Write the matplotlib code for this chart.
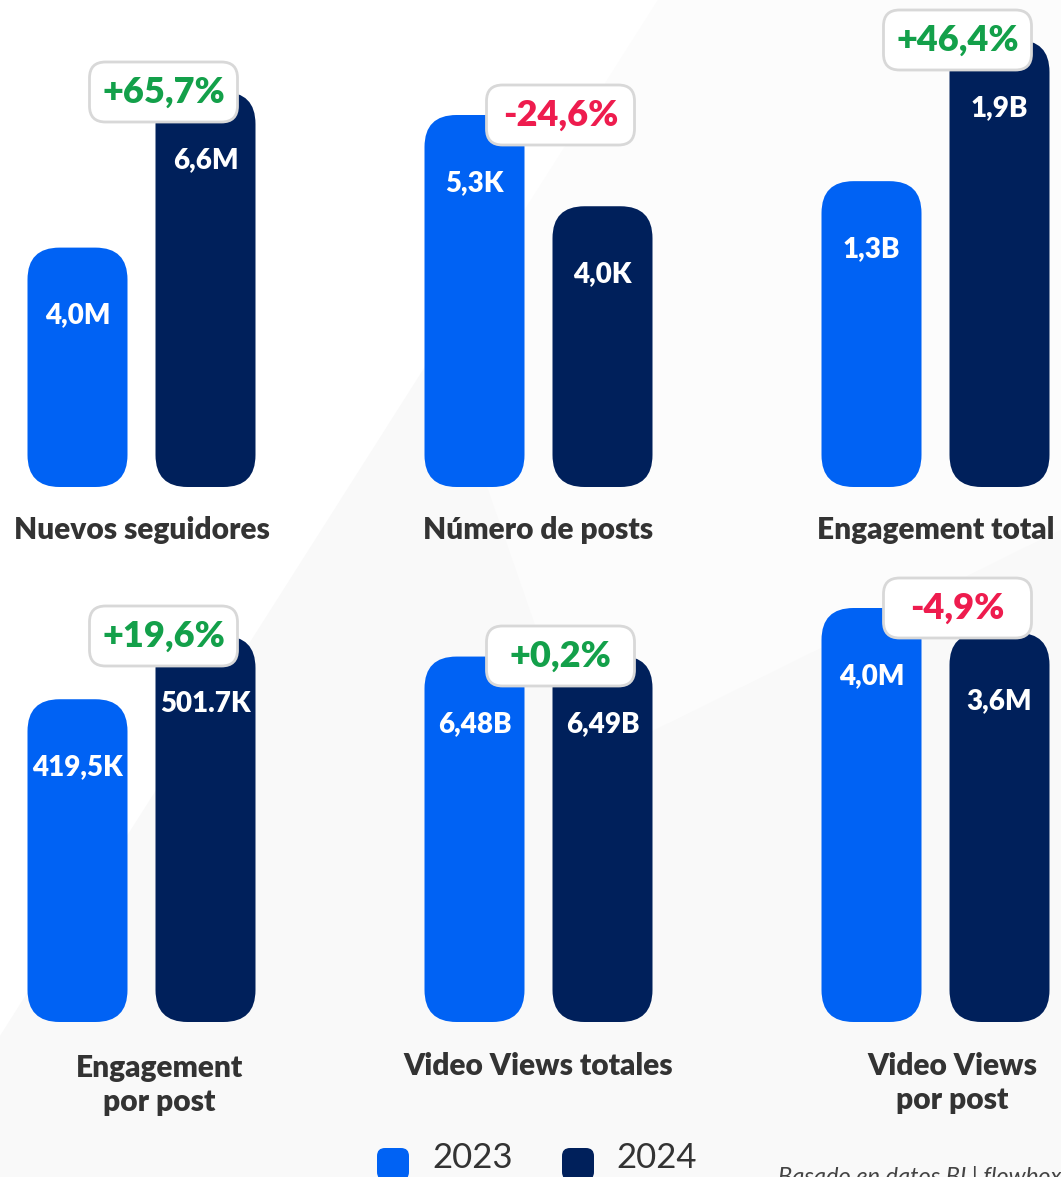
import matplotlib.pyplot as plt
import matplotlib.transforms as mtransforms
from matplotlib.patches import FancyBboxPatch, Polygon

# datos
categorias = ["Nuevos seguidores", "Número de posts", "Engagement total",
              "Engagement\npor post", "Video Views totales", "Video Views\npor post"]
valores_2023 = [4.0, 5.3, 1.3, 419.5, 6.48, 4.0]
valores_2024 = [6.6, 4.0, 1.9, 501.7, 6.49, 3.76]
etiquetas_2023 = ["4,0M", "5,3K", "1,3B", "419,5K", "6,48B", "4,0M"]
etiquetas_2024 = ["6,6M", "4,0K", "1,9B", "501.7K", "6,49B", "3,6M"]
variacion = ["+65,7%", "-24,6%", "+46,4%", "+19,6%", "+0,2%", "-4,9%"]
anios = ["2023", "2024"]

# estilo / layout (pixeles)
W, H = 1061, 1177
AZUL, MARINO = "#0062F4", "#00205B"
VERDE, ROJO = "#13A04A", "#EE1C4E"
GRIS = "#333333"
FUENTE = "Lato"
centros_x = [141.5, 538.5, 935.5]
base_y = [487, 1022]
alto_max = [395, 372, 447, 386, 366, 414]
AX_H = 470
label_pos = [(141.5, 530), (538.5, 530), (935.5, 530),
             (159, 1085), (538, 1066), (952, 1083)]

fig = plt.figure(figsize=(W / 100, H / 100), dpi=100)
fig.patch.set_facecolor("#f9f9f9")
fig.add_artist(Polygon([[0, 1], [0.62, 1], [0.0, 0.12]], closed=True,
                       transform=fig.transFigure, fc="white", ec="none", zorder=-5))
fig.add_artist(Polygon([[0.3, 1], [1, 1], [1, 0.55], [0.55, 0.35]], closed=True,
                       transform=fig.transFigure, fc="#fcfcfc", ec="none", zorder=-6))

ident = mtransforms.IdentityTransform()

for i in range(6):
    cx = centros_x[i % 3]
    by = base_y[i // 3]
    ax = fig.add_axes([(cx - 128) / W, (H - by) / H, 256 / W, AX_H / H])
    ax.set_xlim(-0.5, 1.5)
    vals = [valores_2023[i], valores_2024[i]]
    ax.set_ylim(0, max(vals) * AX_H / alto_max[i])
    ax.axis("off")

    bars = ax.bar([0, 1], vals, width=100 / 128, color=[AZUL, MARINO])
    for b in bars:
        (x0, y0) = ax.transData.transform((b.get_x(), 0))
        (x1, y1) = ax.transData.transform((b.get_x() + b.get_width(), b.get_height()))
        ax.add_patch(FancyBboxPatch((x0, y0), x1 - x0, y1 - y0,
                                    boxstyle="round,pad=0,rounding_size=32",
                                    fc=b.get_facecolor(), ec="none",
                                    transform=ident, clip_on=False, zorder=2))
        b.set_visible(False)

    for j, (v, lab) in enumerate(zip(vals, [etiquetas_2023[i], etiquetas_2024[i]])):
        ax.annotate(lab, (j, v), xytext=(0, -68), textcoords="offset pixels",
                    ha="center", va="center", color="white", fontsize=20,
                    fontweight="heavy", family=FUENTE, zorder=3)

    # badge de variacion
    bx, bym = ax.transData.transform((0.5 + 22 / 128, max(vals)))
    ax.add_patch(FancyBboxPatch((bx - 74, bym - 30), 148, 60,
                                boxstyle="round,pad=0,rounding_size=16",
                                fc="white", ec="#d8d8d8", lw=2,
                                transform=ident, clip_on=False, zorder=4))
    col = VERDE if variacion[i].startswith("+") else ROJO
    ax.text(bx, bym, variacion[i], transform=ident, ha="center", va="center",
            color=col, fontsize=26, fontweight="heavy", family=FUENTE, zorder=5)

    lx, ly = label_pos[i]
    fig.text(lx / W, 1 - ly / H, categorias[i], ha="center", va="center",
             fontsize=21.5, fontweight="heavy", color=GRIS, family=FUENTE,
             linespacing=1.3)

# leyenda
for x_sq, x_txt, col, anio in [(377, 432, AZUL, anios[0]), (562, 616, MARINO, anios[1])]:
    fig.add_artist(FancyBboxPatch((x_sq, H - 1148 - 32), 32, 32,
                                  boxstyle="round,pad=0,rounding_size=8",
                                  fc=col, ec="none", transform=ident))
    fig.text(x_txt / W, 1 - 1168 / H, anio, ha="left", va="baseline",
             fontsize=25, color=GRIS, family=FUENTE)

fig.text(778 / W, 1 - 1166 / H, "Basado en datos BI | flowbox", ha="left", va="top",
         fontsize=17, style="italic", color="#444444", family=FUENTE)

fig.savefig("out.png", dpi=100, facecolor=fig.get_facecolor())
